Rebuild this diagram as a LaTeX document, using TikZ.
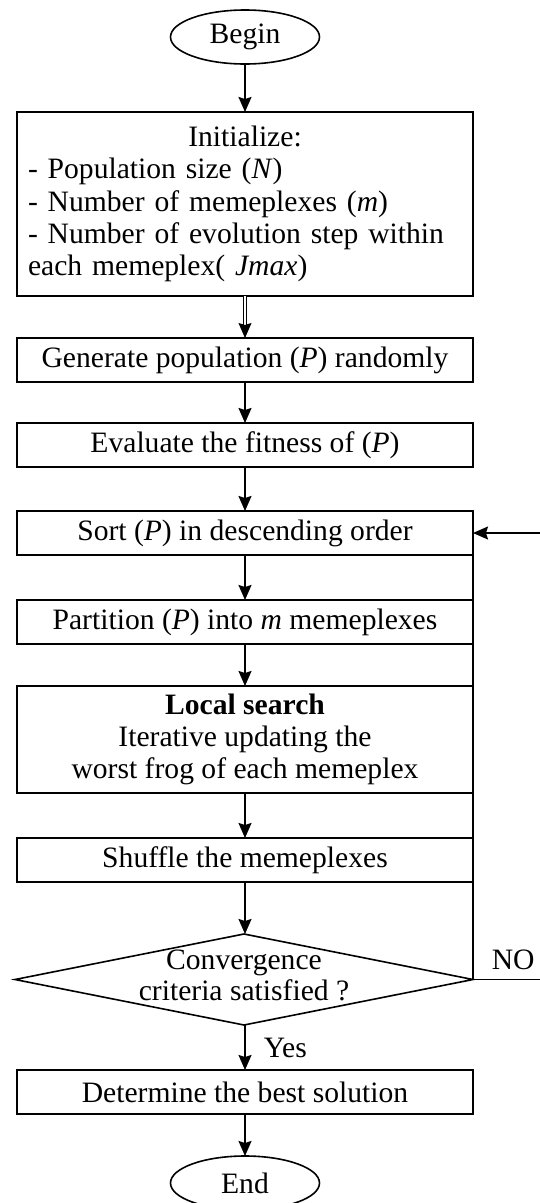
\documentclass[tikz,border=0pt]{standalone}
\usepackage{fontspec}
\setmainfont{Liberation Serif}
\usepackage{tikz}
\usetikzlibrary{shapes.geometric, arrows.meta, positioning}
\tikzset{
  block/.style={rectangle, draw, line width=1.6pt, outer sep=0pt, minimum width=456pt,
    minimum height=44pt, inner sep=2pt, font=\fontsize{29.6pt}{32.4pt}\selectfont},
  termblock/.style={ellipse, draw, line width=1.6pt, outer sep=0pt, minimum width=149pt,
    minimum height=54pt, inner sep=0pt, font=\fontsize{29.6pt}{32.4pt}\selectfont},
  decblock/.style={diamond, draw, line width=1.6pt, outer sep=0pt, minimum width=458pt,
    minimum height=91pt, inner sep=0pt, font=\fontsize{29.6pt}{31pt}\selectfont},
  lbl/.style={inner sep=0pt, font=\fontsize{29.6pt}{32.4pt}\selectfont},
  line/.style={line width=1.6pt},
  arrow/.style={-{Stealth[length=15pt, width=13pt, inset=2pt]}, line width=1.6pt},
  dblarrow/.style={-{Stealth[length=15pt, width=13pt, inset=2pt]}, double,
    double distance=2pt, line width=1pt},
}

\begin{document}
\begin{tikzpicture}[x=1pt, y=-1pt]
  \useasboundingbox (0,0) rectangle (540,1203);
  \node[termblock] (begin) at (245,37) {Begin};
  \node[block, below=48pt of begin, minimum height=184pt, text width=434pt]
    (init) {\setlength\parindent{0pt}\centering Initialize:\par\raggedright
    - Population size (\textit{N})\\
    - Number of memeplexes (\textit{m})\\
    - Number of evolution step within\\
    each memeplex( \textit{Jmax})\par};
  \node[block, below=42pt of init] (gen) {Generate population (\textit{P}) randomly};
  \node[block, below=41pt of gen] (eval) {Evaluate the fitness of (\textit{P})};
  \node[block, below=44pt of eval] (sort) {Sort (\textit{P}) in descending order};
  \node[block, below=45pt of sort] (part) {Partition (\textit{P}) into \textit{m} memeplexes};
  \node[block, below=42pt of part, minimum height=107pt, align=center]
    (local) {\textbf{Local search}\\Iterative updating the\\worst frog of each memeplex};
  \node[block, below=45pt of local] (shuffle) {Shuffle the memeplexes};
  \node[decblock, below=52pt of shuffle, xshift=-1pt]
    (conv) {\smash{\makebox[0pt]{\raisebox{-6pt}{\begin{tabular}{@{}c@{}}Convergence\\criteria satisfied ?\end{tabular}}}}};
  \node[block, below=45pt of conv, xshift=1pt] (best) {Determine the best solution};
  \node[termblock, below=42pt of best] (finish) {End};

  \coordinate (redge) at (540,0);
  \coordinate (noout) at (conv.east -| redge);
  \coordinate (sortin) at (sort.east -| redge);

  \draw[arrow] (begin) -- (init);
  \draw[dblarrow] (init) -- (gen);
  \draw[arrow] (gen) -- (eval);
  \draw[arrow] (eval) -- (sort);
  \draw[arrow] (sort) -- (part);
  \draw[arrow] (part) -- (local);
  \draw[arrow] (local) -- (shuffle);
  \draw[arrow] (shuffle) -- (shuffle |- conv.north);
  \draw[arrow] (conv.south -| best) -- node[lbl, right=18pt] {Yes} (best);
  \draw[arrow] (best) -- (finish);
  % NO branch back to sorting
  \draw[line] (conv.east) -- node[lbl, above=9pt, pos=0.6] {NO} (noout);
  \draw[line] (conv.east) -- (conv.east |- sort.south);
  \draw[arrow] (sortin) -- (sort.east);
\end{tikzpicture}
\end{document}
